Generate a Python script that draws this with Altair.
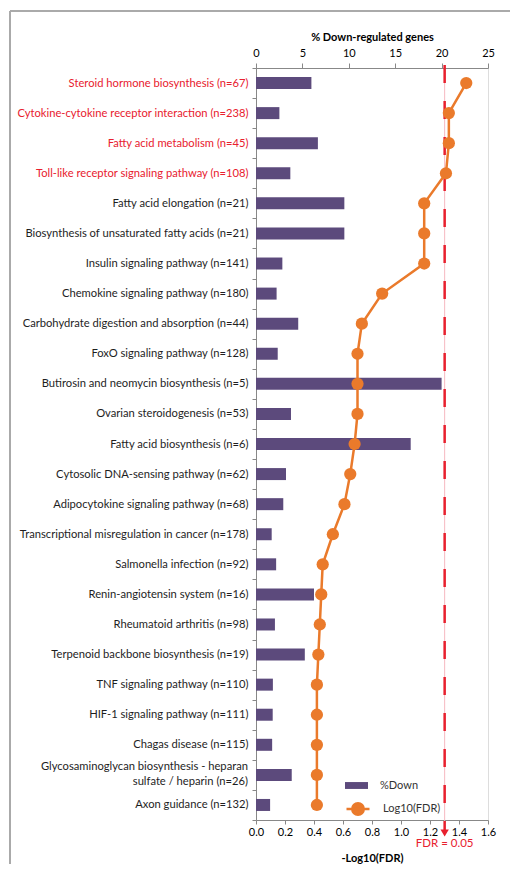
import altair as alt
import pandas as pd
import numpy as np

# ---- data ----
pathways = [
    "Steroid hormone biosynthesis (n=67)",
    "Cytokine-cytokine receptor interaction (n=238)",
    "Fatty acid metabolism (n=45)",
    "Toll-like receptor signaling pathway (n=108)",
    "Fatty acid elongation (n=21)",
    "Biosynthesis of unsaturated fatty acids (n=21)",
    "Insulin signaling pathway (n=141)",
    "Chemokine signaling pathway (n=180)",
    "Carbohydrate digestion and absorption (n=44)",
    "FoxO signaling pathway (n=128)",
    "Butirosin and neomycin biosynthesis (n=5)",
    "Ovarian steroidogenesis (n=53)",
    "Fatty acid biosynthesis (n=6)",
    "Cytosolic DNA-sensing pathway (n=62)",
    "Adipocytokine signaling pathway (n=68)",
    "Transcriptional misregulation in cancer (n=178)",
    "Salmonella infection (n=92)",
    "Renin-angiotensin system (n=16)",
    "Rheumatoid arthritis (n=98)",
    "Terpenoid backbone biosynthesis (n=19)",
    "TNF signaling pathway (n=110)",
    "HIF-1 signaling pathway (n=111)",
    "Chagas disease (n=115)",
    "Glycosaminoglycan biosynthesis - heparan|sulfate / heparin (n=26)" + "\u00a0" * 20,
    "Axon guidance (n=132)",
]
pct_down = [5.97, 2.52, 6.67, 3.70, 9.52, 9.52, 2.84, 2.22, 4.55, 2.34, 20.0, 3.77,
            16.67, 3.23, 2.94, 1.69, 2.17, 6.25, 2.04, 5.26, 1.82, 1.80, 1.74, 3.85, 1.52]
neg_log10_fdr = [1.45, 1.33, 1.33, 1.31, 1.16, 1.16, 1.16, 0.87, 0.73, 0.70, 0.70, 0.70,
                 0.68, 0.65, 0.61, 0.53, 0.46, 0.45, 0.44, 0.43, 0.42, 0.42, 0.42, 0.42, 0.42]
highlighted = pathways[:4]
two_line = [pathways[23]]
fdr_threshold = 0.05
top_ticks = [0, 5, 10, 15, 20, 25]
bottom_ticks = [0.0, 0.2, 0.4, 0.6, 0.8, 1.0, 1.2, 1.4, 1.6]

PURPLE = "#5c4a7c"
ORANGE = "#ea7a2b"
RED = "#e8202e"
FONT = "Lato"

df = pd.DataFrame({
    "pathway": pathways,
    "pct": pct_down,
    "fdr": neg_log10_fdr,
    "idx": list(range(len(pathways))),
    "s1": "%Down",
    "s2": "Log10(FDR)",
})
wrap_df = pd.DataFrame({"pathway": two_line})
thr_df = pd.DataFrame({"thr": [-np.log10(fdr_threshold)], "label": ["FDR = 0.05"]})
one = pd.DataFrame({"a": [0]})

H = 752
W = 232

test_expr = "indexof([" + ",".join("'" + p + "'" for p in highlighted) + "], datum.value) >= 0"
y_axis = alt.Axis(
    title=None, labelExpr="indexof(datum.label, '|') >= 0 ? '' : datum.label",
    labelLimit=0, labelOverlap=False,
    labelFontSize=11.2, labelFont=FONT, labelPadding=4, tickSize=4, tickBand="extent",
    labelColor={"condition": {"test": test_expr, "value": RED}, "value": "#1e1e1e"},
)
y_enc = alt.Y("pathway:N", sort=pathways,
              scale=alt.Scale(paddingInner=0, paddingOuter=0), axis=y_axis)

top_axis = alt.Axis(orient="top", title="% Down-regulated genes", values=top_ticks,
                    titleFontWeight="bold", titleFontSize=11, titlePadding=5,
                    labelPadding=5, tickSize=5, labelFontSize=11, grid=False,
                    labelFlush=False)
fdr_scale = alt.Scale(domain=[0, 1.6], nice=False, zero=True)
fdr_axis = alt.Axis(orient="bottom", title="-Log10(FDR)", values=bottom_ticks, format=".1f",
                    titleFontWeight="bold", titleFontSize=11, titlePadding=15,
                    labelPadding=2, tickSize=4, labelFontSize=11, grid=False,
                    labelFlush=False)

frame_v = alt.Chart(one).mark_rule(color="#aaaaaa", strokeWidth=2).encode(
    x=alt.value(-246), y=alt.value(-57), y2=alt.value(796))
frame_h = alt.Chart(one).mark_rule(color="#aaaaaa", strokeWidth=2).encode(
    x=alt.value(-246), x2=alt.value(254), y=alt.value(-57))

wrap_label = alt.Chart(wrap_df).mark_text(
    align="right", baseline="middle", lineBreak="|", lineHeight=15, dy=-7.5,
    font=FONT, fontSize=11.2, color="#1e1e1e",
).encode(y=y_enc, x=alt.value(-8), text="pathway:N")

bars = alt.Chart(df).mark_bar(size=12).encode(
    y=y_enc,
    x=alt.X("pct:Q", scale=alt.Scale(domain=[0, 25], nice=False), axis=top_axis),
    color=alt.Color("s1:N", scale=alt.Scale(domain=["%Down"], range=[PURPLE]),
                    legend=alt.Legend(orient="none", legendX=89, legendY=706, title=None,
                                      padding=0, symbolType="M-1,-0.3H1V0.3H-1Z",
                                      symbolSize=529, symbolStrokeWidth=0,
                                      labelFont=FONT, labelFontSize=11, labelColor="#333333",
                                      labelOffset=12)),
)

thr_pink = alt.Chart(thr_df).mark_rule(color="#f6b8c0", strokeWidth=1).encode(
    x=alt.X("thr:Q", scale=fdr_scale, axis=fdr_axis), y=alt.value(-3), y2=alt.value(760))
thr_dash = alt.Chart(thr_df).mark_rule(color=RED, strokeWidth=2.5, strokeDash=[18, 18]).encode(
    x=alt.X("thr:Q", scale=fdr_scale, axis=fdr_axis), y=alt.value(-3), y2=alt.value(762))
thr_arrow = alt.Chart(thr_df).mark_point(shape="triangle-down", filled=True, color=RED,
                                         size=70, opacity=1).encode(
    x=alt.X("thr:Q", scale=fdr_scale, axis=fdr_axis), y=alt.value(765))
thr_text = alt.Chart(thr_df).mark_text(color=RED, font=FONT, fontSize=11.5, align="center",
                                       baseline="middle").encode(
    x=alt.X("thr:Q", scale=fdr_scale, axis=fdr_axis), y=alt.value(776), text="label:N")

line = alt.Chart(df).mark_line(color=ORANGE, strokeWidth=2.5).encode(
    y=y_enc,
    x=alt.X("fdr:Q", scale=fdr_scale, axis=fdr_axis),
    order=alt.Order("idx:Q"),
)
points = alt.Chart(df).mark_circle(size=150, opacity=1).encode(
    y=y_enc,
    x=alt.X("fdr:Q", scale=fdr_scale, axis=fdr_axis),
    color=alt.Color("s2:N", scale=alt.Scale(domain=["Log10(FDR)"], range=[ORANGE]),
                    legend=alt.Legend(orient="none", legendX=89, legendY=728, title=None,
                                      padding=0,
                                      symbolType="M-1,0H1M-0.5,0A0.5,0.5,0,1,1,0.5,0A0.5,0.5,0,1,1,-0.5,0Z",
                                      symbolSize=529, symbolStrokeColor=ORANGE,
                                      symbolFillColor=ORANGE, symbolStrokeWidth=2.5,
                                      symbolOpacity=1,
                                      labelFont=FONT, labelFontSize=11, labelColor="#333333",
                                      labelOffset=12)),
)

inner = alt.layer(thr_pink, thr_dash, thr_arrow, thr_text, line, points)

chart = alt.layer(frame_v, frame_h, wrap_label, bars, inner).resolve_scale(
    x="independent", color="independent"
).properties(
    width=W, height=H, padding={"left": 1, "top": 2, "right": 0, "bottom": 0}
).configure_view(stroke=None).configure_axis(
    domainColor="#888888", tickColor="#888888", domainWidth=1.5, tickWidth=1.5,
    labelFont=FONT, titleFont=FONT, labelColor="#222222", titleColor="#111111",
).configure(font=FONT)

chart.save("out.html", embed_options={"renderer": "svg", "actions": False})
